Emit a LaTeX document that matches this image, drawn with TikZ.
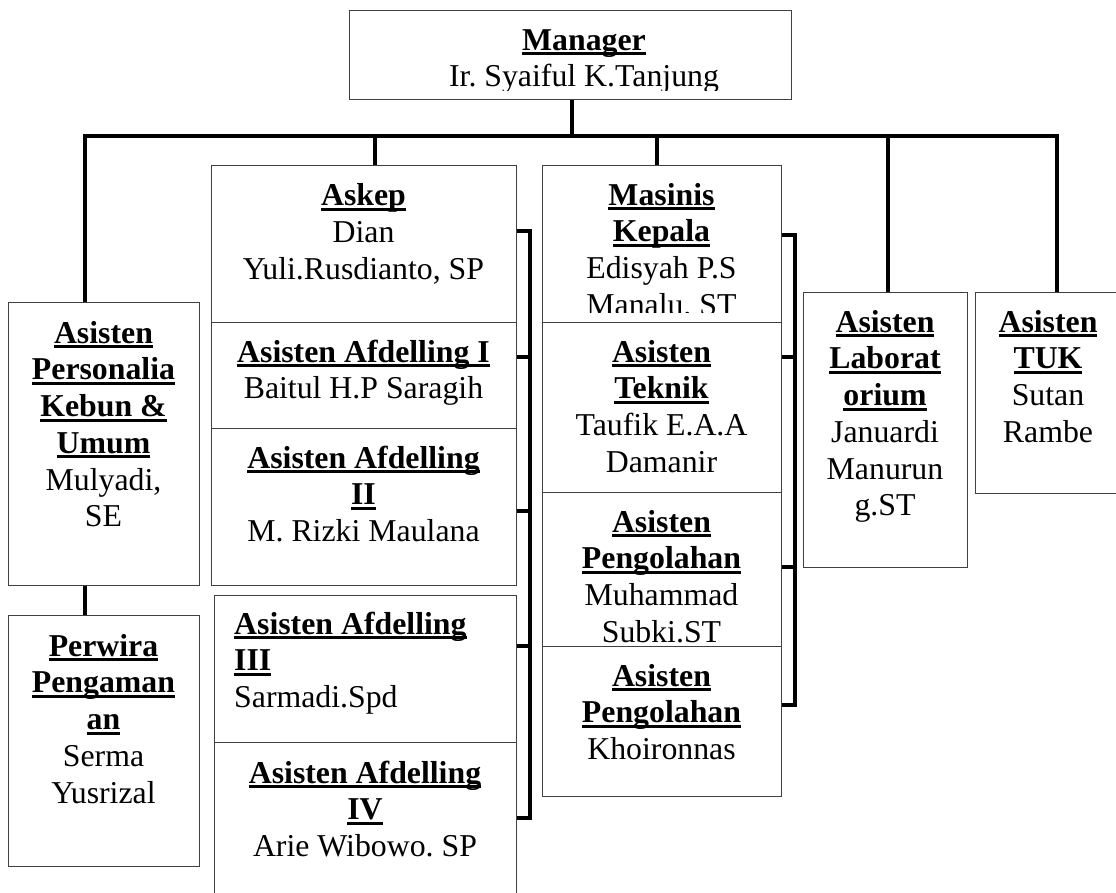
\documentclass[tikz,border=0pt]{standalone}
\usepackage{fontspec}
\setmainfont{Liberation Serif}
\frenchspacing
\newcommand\ulx[1]{\textbf{\setbox0\hbox{#1}\rlap{\rule[-5pt]{\wd0}{3pt}}\box0}}
\newcommand\st{\rule{0pt}{30pt}}
\tikzset{
  box/.style={draw=black!75, line width=1.2pt, fill=white, inner sep=0pt, anchor=north west},
  txt/.style={inner sep=0pt, anchor=north, align=center, font=\fontsize{31.8}{36.7}\selectfont},
  txtl/.style={txt, anchor=north west, align=left},
  conn/.style={draw=black, line width=3.5pt, line join=miter}
}
\begin{document}
\begin{tikzpicture}[x=1pt,y=-1pt]
\useasboundingbox (0,0) rectangle (1116,892);
\clip (0,0) rectangle (1116,892);
% coordinates for connector ends
\coordinate (bar) at (572,136);
\coordinate (c1) at (85,302);
\coordinate (c2) at (375,165);
\coordinate (c3) at (657,165);
\coordinate (c4) at (888,292);
\coordinate (c5) at (1057,292);
\coordinate (m1) at (530,231);
\coordinate (m2) at (530,357);
\coordinate (m3) at (530,511);
\coordinate (m4) at (530,646);
\coordinate (m5) at (530,818);
\coordinate (k1) at (795,235);
\coordinate (k2) at (795,357);
\coordinate (k3) at (795,567);
\coordinate (k4) at (795,705);

% boxes
\node[box, minimum width=442pt, minimum height=89pt] (manager) at (349,10) {};
\node[box, minimum width=191pt, minimum height=283pt] (personalia) at (8,302) {};
\node[box, minimum width=191pt, minimum height=251pt] (perwira) at (8,615) {};
\node[box, minimum width=164pt, minimum height=275pt] (lab) at (803,292) {};
\node[box, minimum width=146pt, minimum height=201pt] (tuk) at (975,292) {};

% connectors of the main tree
\draw[conn] (bar |- manager.south) -- (bar);
\draw[conn] (c1) |- (bar) -| (c5);
\draw[conn] (c2 |- bar) -- (c2);
\draw[conn] (c3 |- bar) -- (c3);
\draw[conn] (c4 |- bar) -- (c4);
\draw[conn] (personalia.south -| c1) -- (perwira.north -| c1);

% manager text
\begin{scope}
\clip (349,10) rectangle (791,90);
\node[txt] (manager-t) at (584,20) {\st\ulx{Manager}\\Ir. Syaiful K.Tanjung};
\end{scope}

% left column
\node[txt] (personalia-t) at (103.5,313) {\st\ulx{Asisten}\\\ulx{Personalia}\\\ulx{Kebun \&}\\\ulx{Umum}\\Mulyadi,\\SE};
\node[txt] (perwira-t) at (103.5,626) {\st\ulx{Perwira}\\\ulx{Pengaman}\\\ulx{an}\\Serma\\Yusrizal};

% middle column
\node[box, minimum width=305pt, minimum height=157pt] (askep) at (211,165) {};
\node[txt] (askep-t) at (363.5,175.5) {\st\ulx{Askep}\\Dian\\Yuli.Rusdianto, SP};
\node[box, minimum width=305pt, minimum height=106pt] (afd1) at (211,322) {};
\node[txt] (afd1-t) at (363.5,332) {\st\ulx{Asisten Afdelling I}\\Baitul H.P Saragih};
\node[box, minimum width=305pt, minimum height=157pt] (afd2) at (211,428) {};
\node[txt] (afd2-t) at (363.5,438) {\st\ulx{Asisten Afdelling}\\\ulx{II}\\M. Rizki Maulana};
\node[box, minimum width=302pt, minimum height=147pt] (afd3) at (214,595) {};
\node[txtl] (afd3-t) at (234,604) {\st\ulx{Asisten Afdelling}\\\ulx{III}\\Sarmadi.Spd};
\node[box, minimum width=302pt, minimum height=160pt] (afd4) at (214,742) {};
\node[txt] (afd4-t) at (365,753) {\st\ulx{Asisten Afdelling}\\\ulx{IV}\\Arie Wibowo. SP};

% masinis column
\node[box, minimum width=239pt, minimum height=157pt] (masinis) at (542,165) {};
\begin{scope}
\clip (542,165) rectangle (781,312);
\node[txt] (masinis-t) at (661.5,175) {\st\ulx{Masinis}\\\ulx{Kepala}\\Edisyah P.S\\Manalu, ST};
\end{scope}
\node[box, minimum width=239pt, minimum height=170pt] (teknik) at (542,322) {};
\node[txt] (teknik-t) at (661.5,332) {\st\ulx{Asisten}\\\ulx{Teknik}\\Taufik E.A.A\\Damanir};
\node[box, minimum width=239pt, minimum height=154pt] (peng1) at (542,492) {};
\begin{scope}
\clip (542,492) rectangle (781,643);
\node[txt] (peng1-t) at (661.5,502) {\st\ulx{Asisten}\\\ulx{Pengolahan}\\Muhammad\\Subki.ST};
\end{scope}
\node[box, minimum width=239pt, minimum height=150pt] (peng2) at (542,646) {};
\node[txt] (peng2-t) at (661.5,656) {\st\ulx{Asisten}\\\ulx{Pengolahan}\\Khoironnas};

% right boxes text
\node[txt] (lab-t) at (885,302) {\st\ulx{Asisten}\\\ulx{Laborat}\\\ulx{orium}\\Januardi\\Manurun\\g.ST};
\node[txt] (tuk-t) at (1048,302) {\st\ulx{Asisten}\\\ulx{TUK}\\Sutan\\Rambe};

% brackets
\draw[conn] (askep.east |- m1) -- (m1) -- (m5) -- (afd4.east |- m5);
\draw[conn] (afd1.east |- m2) -- (m2);
\draw[conn] (afd2.east |- m3) -- (m3);
\draw[conn] (afd3.east |- m4) -- (m4);
\draw[conn] (masinis.east |- k1) -- (k1) -- (k4) -- (peng2.east |- k4);
\draw[conn] (teknik.east |- k2) -- (k2);
\draw[conn] (peng1.east |- k3) -- (k3);
\end{tikzpicture}
\end{document}
